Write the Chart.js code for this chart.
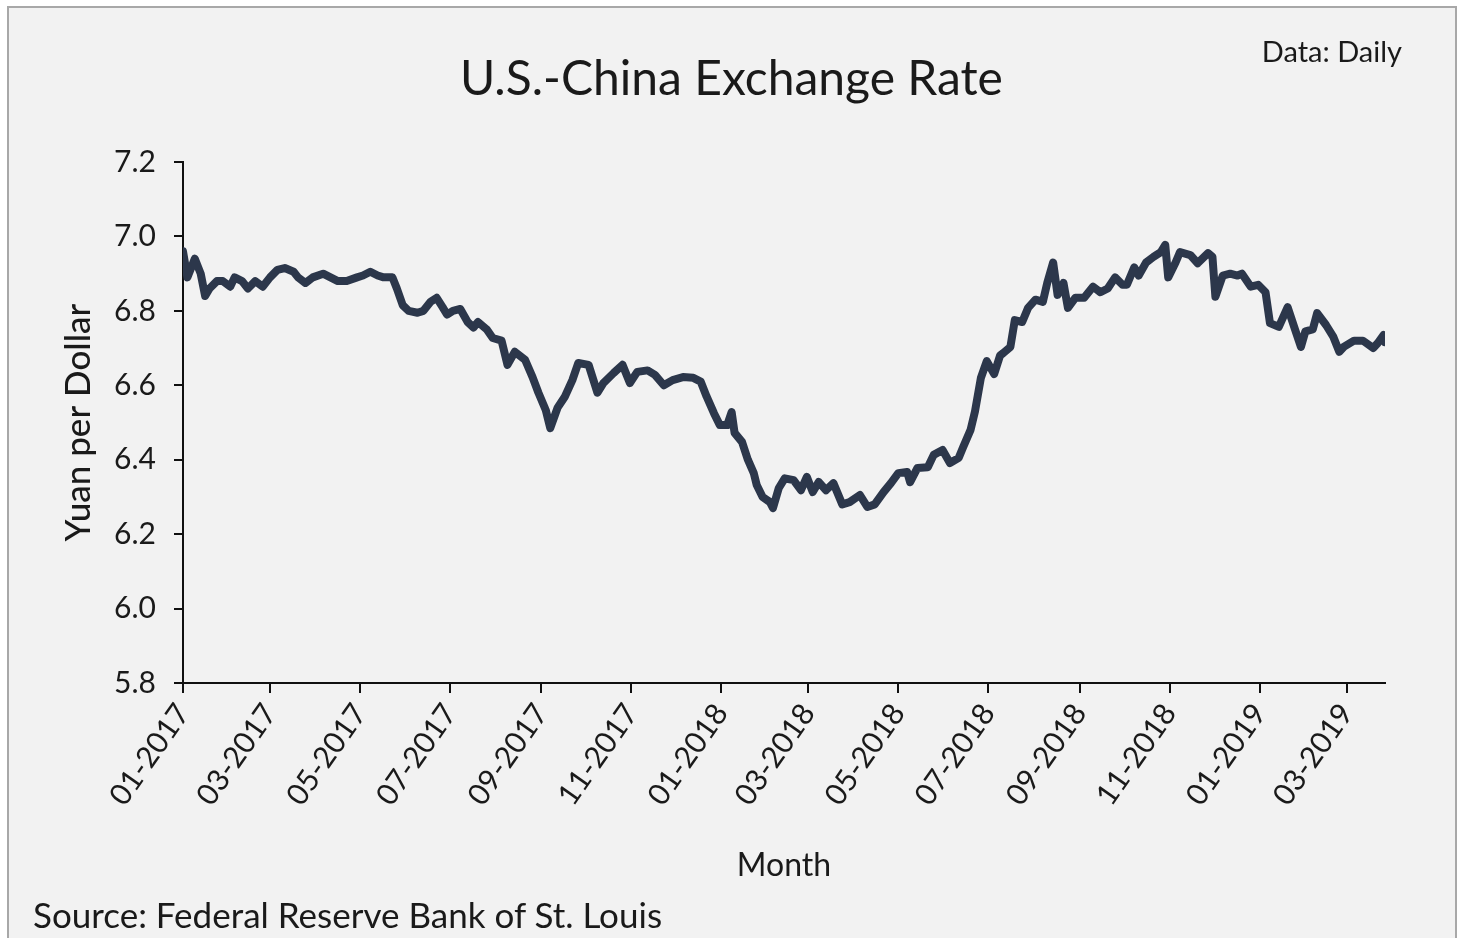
<!DOCTYPE html>
<html>
<head>
<meta charset="utf-8">
<title>U.S.-China Exchange Rate</title>
<script src="https://cdn.jsdelivr.net/npm/chart.js@4.4.0/dist/chart.umd.min.js"></script>
<style>
  html, body { margin: 0; padding: 0; background: #fff; }
  body { width: 1463px; height: 938px; position: relative; overflow: hidden; font-family: Lato, sans-serif; color: #1a1a1a; }
  #frame { position: absolute; left: 7px; top: 6px; width: 1446px; height: 940px; border: 2px solid #a8a8a8; background: #f2f2f2; }
  #chart { position: absolute; left: 0; top: 0; }
  .txt { position: absolute; white-space: nowrap; line-height: 1.2; }
  #title { left: 0; width: 1463px; text-align: center; top: 48px; font-size: 48px; }
  #freq { right: 61px; top: 34px; font-size: 29px; }
  #source { left: 33px; top: 893px; font-size: 35px; }
</style>
</head>
<body>
<div id="frame"></div>
<canvas id="chart" width="1463" height="938"></canvas>
<div class="txt" id="title">U.S.-China Exchange Rate</div>
<div class="txt" id="freq">Data: Daily</div>
<div class="txt" id="source">Source: Federal Reserve Bank of St. Louis</div>

<script>
// Days since 01-01-2017
const days = [0, 3, 8, 12, 15, 18, 23, 27, 32, 35, 40, 44, 49, 54, 59, 64, 69, 75, 78, 83,
  88, 95, 100, 105, 111, 118, 122, 127, 132, 136, 142, 145, 149, 153, 159, 163, 168, 172, 176, 179,
  183, 188, 193, 197, 200, 206, 210, 216, 220, 225, 232, 237, 241, 246, 249, 254, 259, 264, 268, 275,
  281, 285, 292, 298, 303, 308, 315, 320, 326, 332, 339, 346, 351, 355, 360, 364, 369, 372, 374, 379,
  383, 387, 389, 393, 398, 400, 404, 408, 414, 419, 423, 427, 431, 436, 441, 447, 452, 459, 464, 469,
  475, 480, 485, 491, 493, 498, 505, 509, 515, 520, 526, 529, 534, 537, 541, 545, 550, 554, 556, 561,
  564, 569, 573, 578, 583, 586, 590, 593, 597, 600, 605, 611, 617, 622, 627, 632, 637, 640, 645, 648,
  653, 658, 663, 666, 668, 673, 676, 683, 688, 695, 698, 700, 705, 710, 715, 718, 724, 729, 734, 737,
  743, 749, 754, 758, 761, 766, 769, 775, 780, 784, 787, 794, 800, 807, 810, 814, 815];

// Yuan per dollar
const rates = [6.96, 6.89, 6.94, 6.90, 6.84, 6.86, 6.88, 6.88, 6.865, 6.89, 6.88, 6.86, 6.88, 6.865, 6.89, 6.91, 6.915, 6.905, 6.89, 6.875,
  6.89, 6.90, 6.89, 6.88, 6.88, 6.89, 6.895, 6.905, 6.895, 6.89, 6.89, 6.86, 6.815, 6.80, 6.795, 6.80, 6.825, 6.835, 6.81, 6.79,
  6.80, 6.805, 6.77, 6.755, 6.77, 6.75, 6.727, 6.72, 6.655, 6.69, 6.668, 6.622, 6.58, 6.533, 6.485, 6.54, 6.57, 6.614, 6.66, 6.655,
  6.58, 6.606, 6.633, 6.655, 6.606, 6.636, 6.64, 6.628, 6.60, 6.614, 6.622, 6.62, 6.61, 6.57, 6.525, 6.493, 6.493, 6.528, 6.472, 6.448,
  6.40, 6.364, 6.332, 6.30, 6.286, 6.27, 6.324, 6.35, 6.345, 6.318, 6.354, 6.313, 6.34, 6.318, 6.337, 6.28, 6.286, 6.305, 6.273, 6.28,
  6.313, 6.337, 6.364, 6.367, 6.34, 6.378, 6.38, 6.413, 6.426, 6.391, 6.405, 6.434, 6.48, 6.53, 6.62, 6.665, 6.63, 6.68, 6.686, 6.703,
  6.775, 6.77, 6.808, 6.83, 6.824, 6.875, 6.93, 6.843, 6.875, 6.808, 6.835, 6.835, 6.865, 6.85, 6.86, 6.89, 6.87, 6.87, 6.917, 6.895,
  6.93, 6.945, 6.958, 6.977, 6.89, 6.93, 6.958, 6.95, 6.928, 6.955, 6.945, 6.838, 6.895, 6.90, 6.895, 6.90, 6.865, 6.87, 6.85, 6.767,
  6.757, 6.81, 6.75, 6.703, 6.745, 6.75, 6.794, 6.762, 6.73, 6.69, 6.703, 6.72, 6.72, 6.70, 6.713, 6.735, 6.716];

// x-axis ticks (first day of every second month)
const tickDays = [0, 59, 120, 181, 243, 304, 365, 424, 485, 546, 608, 669, 730, 789];
const tickLabels = ['01-2017', '03-2017', '05-2017', '07-2017', '09-2017', '11-2017', '01-2018',
  '03-2018', '05-2018', '07-2018', '09-2018', '11-2018', '01-2019', '03-2019'];
const yTicks = [5.8, 6.0, 6.2, 6.4, 6.6, 6.8, 7.0, 7.2];

const points = days.map((d, i) => ({ x: d, y: rates[i] }));

const textColor = '#1a1a1a';
const axisColor = '#111';

new Chart(document.getElementById('chart'), {
  type: 'line',
  data: {
    datasets: [{
      data: points,
      borderColor: '#2c374b',
      borderWidth: 8,
      pointRadius: 0,
      tension: 0,
      borderJoinStyle: 'round',
      borderCapStyle: 'round'
    }]
  },
  options: {
    responsive: false,
    animation: false,
    devicePixelRatio: 1,
    layout: { padding: { left: 0, right: 78, top: 162, bottom: 53 } },
    plugins: {
      legend: { display: false },
      tooltip: { enabled: false }
    },
    scales: {
      x: {
        type: 'linear',
        min: 0,
        max: 815,
        afterBuildTicks: axis => { axis.ticks = tickDays.map(v => ({ value: v })); },
        afterFit: axis => { axis.height = 202; },
        ticks: {
          autoSkip: false,
          minRotation: 55,
          maxRotation: 55,
          padding: 4,
          color: textColor,
          font: { family: 'Lato', size: 30 },
          callback: value => tickLabels[tickDays.indexOf(value)]
        },
        grid: { display: true, drawOnChartArea: false, drawTicks: true, tickLength: 10, color: axisColor, lineWidth: 2 },
        border: { display: true, color: axisColor, width: 2 },
        title: {
          display: true,
          text: 'Month',
          color: textColor,
          font: { family: 'Lato', size: 32 },
          padding: { top: 0, bottom: 0 }
        }
      },
      y: {
        min: 5.8,
        max: 7.2,
        afterBuildTicks: axis => { axis.ticks = yTicks.map(v => ({ value: v })); },
        afterFit: axis => { axis.width = 183; },
        ticks: {
          padding: 18,
          color: textColor,
          font: { family: 'Lato', size: 30 },
          callback: value => value.toFixed(1)
        },
        grid: { display: true, drawOnChartArea: false, drawTicks: true, tickLength: 9, color: axisColor, lineWidth: 2 },
        border: { display: true, color: axisColor, width: 2 },
        title: {
          display: true,
          text: 'Yuan per Dollar',
          color: textColor,
          font: { family: 'Lato', size: 35, weight: '500' },
          padding: { top: 58, bottom: 0 }
        }
      }
    }
  }
});
</script>
</body>
</html>
